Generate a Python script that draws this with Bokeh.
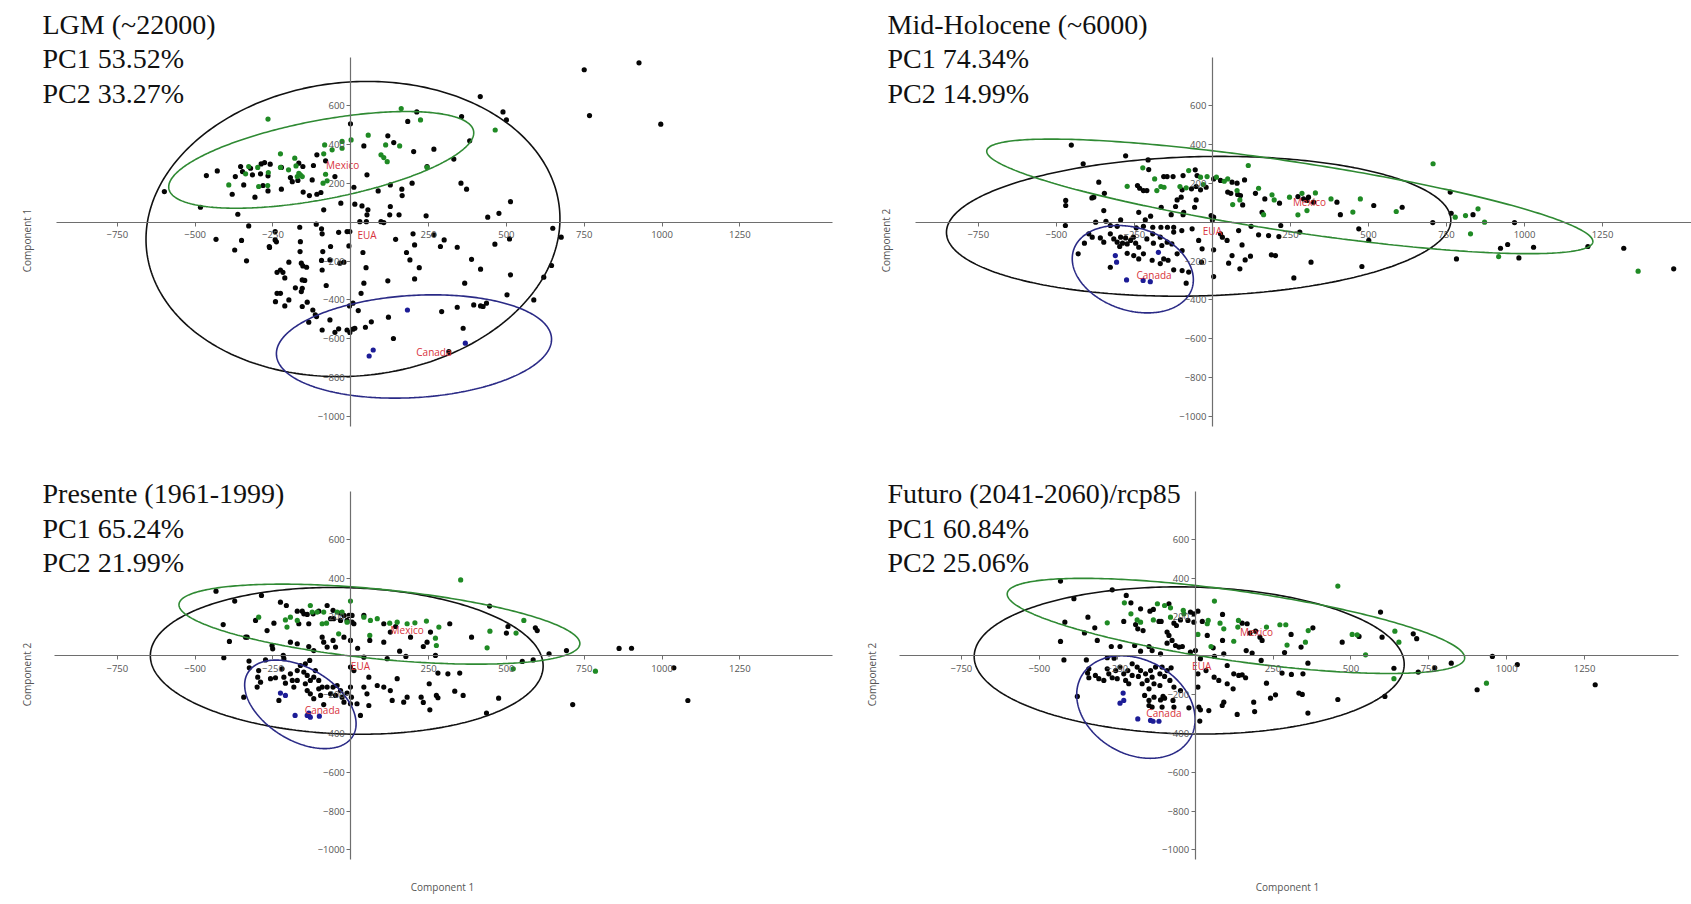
import numpy as np
from bokeh.plotting import figure
from bokeh.layouts import column, row
from bokeh.models import Label, FixedTicker
from bokeh.embed import file_html
from bokeh.resources import INLINE
from bokeh.core.properties import value

# ---------------- data ----------------
X_TICKS = [-750, -500, -250, 250, 500, 750, 1000, 1250]
Y_TICKS = [600, 400, 200, -200, -400, -600, -800, -1000]
GROUPS = ["Mexico", "EUA", "Canada"]

LGM_TITLE = ["LGM (~22000)", "PC1 53.52%", "PC2 33.27%"]
MH_TITLE = ["Mid-Holocene (~6000)", "PC1 74.34%", "PC2 14.99%"]
PRE_TITLE = ["Presente (1961-1999)", "PC1 65.24%", "PC2 21.99%"]
FUT_TITLE = ["Futuro (2041-2060)/rcp85", "PC1 60.84%", "PC2 25.06%"]

# --- LGM ---
lgm_eua = [(416,647),(212,568),(356,544),(489,568),(500,527),(183,519),(-1,507),(119,445),(138,410),(382,419),
 (42,393),(267,376),(202,364),(331,325),(-109,347),(-81,316),(245,287),(-429,264),(-464,240),(-354,287),
 (-322,278),(-288,300),(-277,307),(-259,299),(-223,282),(-167,304),(-154,287),(-120,292),(-371,235),(-348,261),
 (-316,244),(-290,249),(-266,239),(-344,192),(-282,189),(-266,161),(-223,170),(-188,209),(-194,230),(-170,215),
 (-153,155),(-124,218),(-109,144),(-96,153),(-133,137),(-381,144),(-308,129),(-51,235),(10,180),(52,244),
 (127,192),(164,170),(165,137),(197,201),(88,161),(354,201),(372,170),(-32,98),(13,93),(36,84),(55,64),(52,38),
 (127,81),(125,38),(155,38),(242,33),(513,106),(476,46),(440,26),(-87,64),(-483,77),(-599,158),(-363,41),(97,3),
 (106,-2),(29,3),(50,3),(-12,-48),(-3,-48),(-111,-10),(-94,-34),(-92,-60),(-39,-52),(-6,-122),(-328,-19),
 (-433,-88),(-351,-94),(-243,-48),(-243,-91),(-239,-101),(-261,-130),(-164,-26),(-162,-100),(-163,-151),
 (-159,-211),(-154,-225),(-142,-232),(-199,-206),(-226,-246),(-218,-258),(-212,-287),(-237,-258),(-148,-300),
 (-156,-297),(-178,-338),(-156,-340),(-159,-357),(-237,-366),(-242,-409),(-226,-366),(-212,-431),(-199,-400),
 (-156,-434),(-140,-412),(-122,-452),(-114,-477),(-110,-486),(-135,-515),(-92,-555),(-67,-503),(-39,-549),
 (-51,-567),(-90,-151),(-65,-125),(-92,-246),(-79,-326),(-94,-197),(-67,-194),(-35,-211),(-22,-206),(-373,-143),
 (-335,-199),(-262,-125),(39,-156),(49,-234),(42,-314),(33,-366),(24,-455),(7,-417),(-4,-431),(-12,-555),
 (-3,-568),(7,-551),(13,-546),(47,-541),(66,-513),(121,-489),(137,-599),(119,-302),(144,-88),(205,-117),
 (179,-156),(190,-194),(220,-234),(205,-292),(200,-60),(267,-65),(300,-91),(288,-125),(342,-129),(388,-191),
 (417,-242),(366,-314),(463,-113),(510,-86),(513,-271),(502,-374),(588,-400),(620,-283),(645,-223),(649,-31),
 (292,-460),(342,-438),(361,-546),(395,-426),(417,-431),(436,-417),(425,-434),(315,-666),(750,785),(926,821),
 (767,549),(996,505),(676,-77)]
lgm_mexico = [(162,585),(-266,531),(224,527),(464,475),(56,448),(1,424),(-28,416),(-84,398),(-60,373),(-87,352),
 (-28,381),(157,393),(112,398),(97,347),(106,333),(117,312),(-226,352),(-180,330),(-328,287),(-299,282),
 (-265,256),(-226,282),(-200,270),(-176,290),(-162,244),(-172,235),(-156,235),(-81,247),(-392,192),(-296,184),
 (-267,189),(-89,201),(-76,213),(245,282),(-338,249),(-167,252)]
lgm_canada = [(182,-452),(59,-689),(72,-658),(368,-623)]
# ellipse: centre x, centre y, half-extent x, half-extent y, phase (deg)
lgm_ell = {"EUA": (7,-35,665,760,86), "Mexico": (-95,321,490,249,56), "Canada": (203,-640,442,266,82)}
lgm_lab = {"Mexico": (-26,295), "EUA": (52,-65), "Canada": (267,-666)}

# --- Mid-Holocene ---
mh_eua = [(-452,397),(-414,301),(-278,342),(-206,321),(-204,271),(-156,235),(-145,235),(-126,235),(-94,240),
 (-55,270),(-49,240),(4,223),(26,215),(63,206),(79,201),(103,218),(-240,189),(-233,175),(-221,163),(-210,163),
 (-97,167),(-67,172),(-52,184),(-38,167),(-20,180),(49,155),(59,149),(81,143),(90,137),(138,149),(168,120),
 (215,98),(274,132),(292,120),(303,112),(308,129),(324,103),(399,103),(410,39),(159,51),(97,89),(-364,206),
 (-386,125),(-380,129),(-346,149),(-470,112),(-470,86),(-471,-17),(-348,60),(-294,12),(-236,51),(-215,12),
 (-198,31),(-164,77),(-132,39),(-118,81),(-113,115),(-100,129),(-92,51),(-94,39),(-57,77),(-52,115),(-4,34),
 (4,26),(0,12),(-374,0),(-341,5),(-327,-17),(-305,-21),(-244,-29),(-221,-21),(-191,-26),(-165,-26),(-144,-26),
 (-124,-26),(-98,-43),(-65,-34),(26,-60),(32,-77),(47,-94),(84,-43),(124,-21),(148,-65),(180,-69),(213,-74),
 (219,-17),(280,-51),(-396,-60),(-385,-77),(-359,-81),(-348,-103),(-327,-60),(-316,-86),(-305,-103),(-294,-77),
 (-288,-108),(-278,-81),(-273,-112),(-262,-94),(-253,-77),(-246,-108),(-236,-129),(-297,-125),(-410,-108),
 (-430,-163),(-327,-232),(-273,-160),(-252,-172),(-236,-189),(-221,-163),(-210,-86),(-191,-60),(-189,-108),
 (-167,-77),(-162,-120),(-145,-103),(-124,-51),(-130,-112),(-113,-163),(-97,-146),(-193,-196),(-167,-213),
 (-156,-189),(-142,-196),(-124,-245),(-97,-249),(-76,-257),(-84,-314),(-44,-94),(-33,-137),(4,-142),(4,-280),
 (-35,-206),(52,-211),(63,-172),(88,-240),(95,-117),(105,-194),(122,-175),(189,-168),(202,-172),(261,-287),
 (316,-206),(517,86),(469,-34),(501,-94),(479,-228),(608,77),(706,-2),(762,155),(765,46),(835,39),(782,-189),
 (923,-134),(946,-115),(968,-2),(1029,-129),(982,-184),(1203,-125),(1318,-134),(1478,-240)]
mh_mexico = [(-223,280),(-185,223),(-76,266),(-38,232),(-17,235),(13,232),(38,211),(49,223),(115,292),(-273,185),
 (-178,163),(-165,184),(-155,180),(-104,184),(-84,177),(-29,194),(79,163),(88,115),(65,91),(148,175),(191,141),
 (198,115),(247,129),(287,149),(330,151),(380,120),(274,38),(303,60),(164,39),(707,301),(450,52),(474,120),
 (589,55),(778,26),(811,34),(851,69),(872,0),(827,-60),(917,-177),(1364,-252)]
mh_canada = [(-311,-172),(-307,-206),(-275,-297),(-222,-300),(-199,-306),(-173,-155)]
mh_ell = {"EUA": (-44,-21,808,360,85), "Mexico": (248,133,971,295,142), "Canada": (-255,-242,194,225,104)}
mh_lab = {"Mexico": (311,103), "EUA": (0,-43), "Canada": (-187,-274)}

# --- Presente ---
pre_eua = [(-433,333),(-373,282),(-287,311),(-226,276),(-207,259),(-172,230),(-156,230),(-151,216),(-140,213),
 (-76,259),(-57,234),(-103,230),(-121,216),(-33,220),(-22,208),(-6,208),(4,208),(-12,182),(4,173),(10,165),
 (-55,191),(-65,191),(-33,182),(-135,165),(-167,165),(-247,168),(-269,130),(-306,182),(-338,96),(-333,96),
 (-390,74),(-410,161),(-408,-10),(-194,70),(-172,62),(-135,48),(-119,27),(-92,96),(-87,70),(-76,45),(-57,79),
 (-49,45),(-22,96),(-1,79),(-253,53),(-251,36),(-217,2),(-215,-15),(-274,-21),(42,208),(22,39),(42,-7),(61,79),
 (106,70),(117,-15),(157,24),(177,-3),(106,165),(127,122),(144,151),(192,96),(245,70),(-327,-27),(-326,-62),
 (-296,-76),(-299,-110),(-290,-136),(-301,-161),(-258,-118),(-242,-113),(-221,-67),(-215,-110),(-210,-141),
 (-194,-93),(-188,-127),(-183,-161),(-172,-76),(-172,-127),(-162,-50),(-151,-84),(-146,-144),(-140,-101),
 (-130,-127),(-119,-110),(-114,-76),(-103,-127),(-92,-161),(-140,-179),(-130,-196),(-119,-221),(-103,-170),
 (-97,-204),(-87,-251),(-76,-161),(-65,-196),(-57,-161),(-49,-204),(-44,-153),(-33,-179),(-28,-213),(-22,-239),
 (-12,-192),(-1,-161),(2,-213),(-1,-247),(-146,-41),(-132,-24),(-1,-58),(10,-76),(58,-110),(85,-153),(106,-161),
 (127,-179),(149,-118),(181,-213),(226,-213),(252,-144),(254,-278),(42,-161),(52,-196),(58,-256),(20,-247),
 (31,-307),(-344,-213),(-231,-230),(133,-230),(170,-239),(446,256),(318,165),(256,122),(233,48),(272,2),
 (388,96),(505,151),(500,117),(593,144),(599,130),(637,10),(693,27),(862,38),(902,39),(551,-29),(586,-21),
 (280,-89),(312,-93),(350,-89),(334,-182),(361,-204),(275,-204),(280,-216),(233,-240),(475,-218),(436,-295),
 (713,-251),(1038,-62),(1083,-230)]
pre_mexico = [(-130,259),(-194,199),(-172,182),(-210,185),(-205,148),(-124,225),(-108,225),(-87,225),(-44,225),
 (-28,225),(-12,173),(-78,168),(-92,165),(-39,113),(-1,282),(42,199),(63,182),(85,191),(125,168),(149,173),
 (181,165),(206,170),(243,179),(61,105),(-296,199),(353,391),(283,148),(272,91),(275,53),(447,127),(438,41),
 (556,182),(531,117),(522,-67),(786,-79)]
pre_canada = [(-226,-192),(-210,-204),(-179,-307),(-140,-307),(-135,-295),(-130,-316),(-101,-311)]
pre_ell = {"EUA": (-13,-26,631,378,94), "Mexico": (92,163,644,206,119), "Canada": (-162,-250,179,228,116)}
pre_lab = {"Mexico": (181,134), "EUA": (31,-52), "Canada": (-91,-280)}

# --- Futuro ---
fut_eua = [(-432,385),(-266,340),(-389,294),(-221,311),(-206,273),(-175,242),(-145,230),(-134,239),(-84,268),
 (-15,225),(-4,216),(9,230),(-229,177),(-191,161),(-184,139),(-167,130),(-116,177),(-109,177),(-68,168),
 (-60,156),(-47,185),(-23,182),(-4,173),(23,177),(88,213),(39,105),(88,79),(-344,199),(-418,173),(-432,74),
 (-421,-21),(-355,118),(-322,144),(-314,79),(-269,48),(-241,48),(-260,-12),(-282,-10),(-349,-21),(-341,-67),
 (-345,-89),(-341,-113),(-320,-101),(-309,-118),(-293,-127),(-282,-67),(-277,-93),(-266,-113),(-255,-76),
 (-250,-118),(-241,-58),(-229,-93),(-223,-127),(-216,-76),(-213,-144),(-202,-41),(-202,-101),(-186,-58),
 (-182,-106),(-175,-76),(-170,-144),(-159,-93),(-154,-127),(-148,-170),(-143,-76),(-138,-110),(-132,-144),
 (-127,-58),(-113,-93),(-113,-153),(-106,-58),(-98,-106),(-90,-76),(-81,-127),(-77,-62),(-68,-161),(-162,-204),
 (-148,-230),(-148,-256),(-132,-213),(-111,-227),(-103,-209),(-98,-218),(-138,-264),(-106,-264),(-71,-230),
 (-68,-264),(-47,-179),(-20,-268),(9,-161),(12,-264),(17,-278),(15,-336),(-378,-209),(-194,53),(-175,24),
 (-148,48),(-138,27),(-111,10),(-90,65),(-84,105),(-74,79),(-63,53),(-90,122),(-52,45),(-41,48),(-15,19),(1,27),
 (58,41),(62,-3),(92,10),(103,-50),(17,-15),(9,-93),(35,-76),(61,-110),(76,-127),(103,-144),(124,-93),
 (135,-302),(92,-239),(87,-256),(44,-282),(595,225),(151,168),(167,165),(176,117),(194,127),(208,96),(215,79),
 (308,110),(378,144),(340,45),(164,27),(183,14),(212,-24),(287,17),(362,-38),(472,70),(526,100),(600,96),
 (638,-64),(700,113),(711,88),(716,-84),(769,-62),(822,-38),(954,-3),(1034,-45),(905,-175),(609,-209),
 (458,-225),(140,-101),(151,-98),(162,-113),(279,-89),(309,-96),(346,-93),(122,-170),(229,-141),(242,-218),
 (258,-201),(333,-192),(344,-199),(188,-239),(191,-287),(362,-295),(1284,-149)]
fut_mexico = [(-227,273),(-206,216),(-121,268),(-98,259),(-79,247),(-38,234),(-36,216),(-282,170),(-186,185),
 (-175,173),(-134,185),(-79,199),(39,165),(42,182),(62,282),(80,168),(92,139),(9,110),(51,48),(124,75),
 (139,182),(458,359),(137,148),(229,148),(272,160),(291,160),(295,55),(363,130),(354,70),(504,110),(520,108),
 (547,5),(641,127),(654,70),(638,-118),(935,-141)]
fut_canada = [(-231,-192),(-229,-230),(-241,-244),(-184,-325),(-143,-333),(-135,-337),(-116,-337)]
fut_ell = {"EUA": (-19,-24,690,379,93), "Mexico": (131,154,734,245,132), "Canada": (-190,-264,190,264,104)}
fut_lab = {"Mexico": (197,124), "EUA": (21,-52), "Canada": (-100,-295)}

# ---------------- styling ----------------
DOT = {"EUA": "#050505", "Mexico": "#1f8a24", "Canada": "#1c1c96"}
RING = {"EUA": "#111111", "Mexico": "#2f8a33", "Canada": "#2a2a86"}
TICK_FONT = "Open Sans"
H = 452


def make_panel(title, pts, ell, lab, width, xr, yr, xb, yb, left_lbl, left_pos, bottom_pos, title_x, title_ys):
    p = figure(width=width, height=H, x_range=xr, y_range=yr, output_backend="svg",
               toolbar_location=None, min_border=0, outline_line_color=None,
               background_fill_color="white", border_fill_color="white")
    p.grid.visible = False
    p.xaxis.fixed_location = 0
    p.yaxis.fixed_location = 0
    p.xaxis.ticker = FixedTicker(ticks=X_TICKS)
    p.yaxis.ticker = FixedTicker(ticks=Y_TICKS)
    p.xaxis.bounds = xb
    p.yaxis.bounds = yb
    for ax in (p.xaxis, p.yaxis):
        ax.axis_line_color = "#6e6e6e"
        ax.axis_line_width = 1.2
        ax.major_tick_line_color = "#6e6e6e"
        ax.major_tick_in = 0
        ax.major_tick_out = 4
        ax.minor_tick_in = 0
        ax.minor_tick_out = 0
        ax.major_label_text_font = TICK_FONT
        ax.major_label_text_font_size = "9.5px"
        ax.major_label_text_color = "#555555"
    p.xaxis.major_label_standoff = 5
    p.yaxis.major_label_standoff = 2

    for g in ["EUA", "Mexico", "Canada"]:
        xs = [a for a, b in pts[g]]
        ys = [b for a, b in pts[g]]
        p.scatter(xs, ys, size=5.2, color=DOT[g], line_color=None)
    t = np.linspace(0, 2 * np.pi, 361)
    for g in ["EUA", "Mexico", "Canada"]:
        cx, cy, rx, ry, ph = ell[g]
        p.line(cx + rx * np.cos(t), cy + ry * np.cos(t - np.radians(ph)),
               line_color=RING[g], line_width=1.6)
    p.text(x=[lab[g][0] for g in GROUPS], y=[lab[g][1] for g in GROUPS], text=GROUPS,
           text_font=value(TICK_FONT), text_font_size="10px", text_color="#d8323c",
           text_align="center", text_baseline="middle")

    for line, ty in zip(title, title_ys):
        p.add_layout(Label(x=title_x, y=H - ty, x_units="screen", y_units="screen", text=line,
                           text_font="Liberation Serif", text_font_size="28px", text_color="#111111",
                           text_baseline="alphabetic", text_align="left"))
    p.add_layout(Label(x=left_pos[0], y=H - left_pos[1], x_units="screen", y_units="screen",
                       text=left_lbl, angle=np.pi / 2, text_font=TICK_FONT, text_font_size="10px",
                       text_color="#555555", text_align="center", text_baseline="middle"))
    if bottom_pos is not None:
        p.add_layout(Label(x=bottom_pos[0], y=H - bottom_pos[1], x_units="screen", y_units="screen",
                           text="Component 1", text_font=TICK_FONT, text_font_size="10px",
                           text_color="#555555", text_align="center", text_baseline="middle"))
    return p


def grp(e, m, c):
    return {"EUA": e, "Mexico": m, "Canada": c}


TOP_YS = (23.5, 58, 92.5)
BOT_YS = (41, 76, 109.5)

p1 = make_panel(LGM_TITLE, grp(lgm_eua, lgm_mexico, lgm_canada), lgm_ell, lgm_lab, 845,
                (-1125.5, 1589.5), (-1186, 1141.8), (-947, 1547), (-1052, 848),
                "Component 1", (26, 240), None, 42, TOP_YS)
p2 = make_panel(MH_TITLE, grp(mh_eua, mh_mexico, mh_canada), mh_ell, mh_lab, 846,
                (-1175.5, 1535), (-1186, 1141.8), (-951, 1535), (-1052, 846),
                "Component 2", (40.5, 240), None, 42, TOP_YS)
p3 = make_panel(PRE_TITLE, grp(pre_eua, pre_mexico, pre_canada), pre_ell, pre_lab, 845,
                (-1125.5, 1589.5), (-1280.8, 1047), (-952, 1548), (-1051, 845),
                "Component 2", (26, 222), (442, 434), 42, BOT_YS)
p4 = make_panel(FUT_TITLE, grp(fut_eua, fut_mexico, fut_canada), fut_ell, fut_lab, 846,
                (-1122, 1593), (-1280.8, 1047), (-948, 1552), (-1051, 845),
                "Component 2", (26, 222), (442, 434), 42, BOT_YS)

layout = column(row(p1, p2, spacing=0), row(p3, p4, spacing=0), spacing=0)
open("out.html", "w").write(file_html(layout, INLINE))
